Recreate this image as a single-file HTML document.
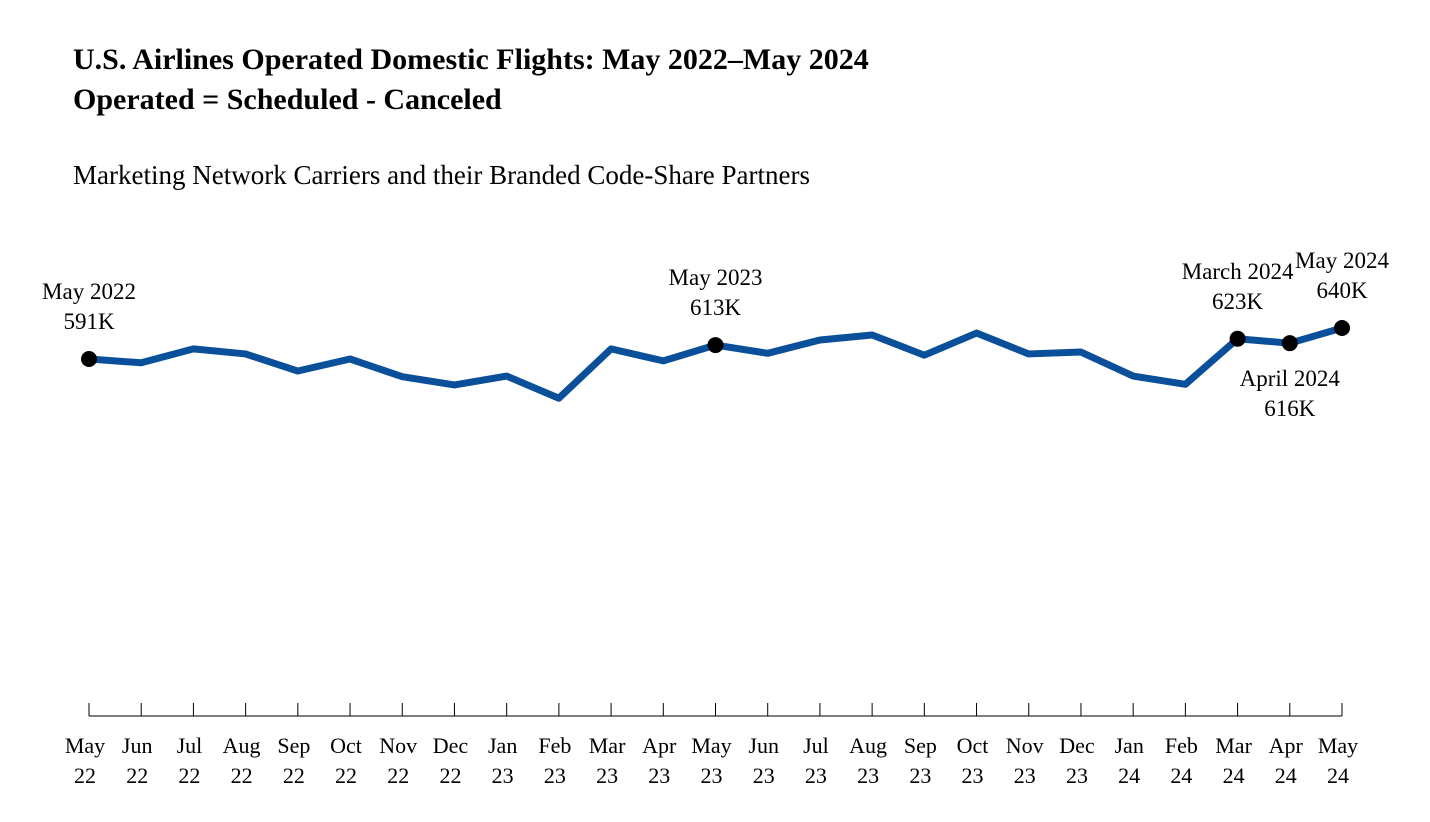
<!DOCTYPE html>
<html><head><meta charset="utf-8">
<style>
body{margin:0;background:#fff;width:1430px;height:817px;overflow:hidden;font-family:"Liberation Serif",serif;}
</style></head>
<body>
<svg width="1430" height="817" xmlns="http://www.w3.org/2000/svg" font-family="Liberation Serif, serif">
<text x="73" y="69" font-size="30" font-weight="bold">U.S. Airlines Operated Domestic Flights: May 2022–May 2024</text>
<text x="73" y="109" font-size="30" font-weight="bold">Operated = Scheduled - Canceled</text>
<text x="73" y="184" font-size="27">Marketing Network Carriers and their Branded Code-Share Partners</text>
<g id="axis"></g>
<g id="plot"></g>
</svg>
<script>
const months=["May","Jun","Jul","Aug","Sep","Oct","Nov","Dec","Jan","Feb","Mar","Apr","May","Jun","Jul","Aug","Sep","Oct","Nov","Dec","Jan","Feb","Mar","Apr","May"];
const years=["22","22","22","22","22","22","22","22","23","23","23","23","23","23","23","23","23","23","23","23","24","24","24","24","24"];
const values=[591,585,607,599,572,591,563,550,564,529,607,588,613,600,621,629,597,632,599,602,564,551,623,616,640];
const labeled=[[0,"May 2022","591K","above"],[12,"May 2023","613K","above"],[22,"March 2024","623K","above"],[23,"April 2024","616K","below"],[24,"May 2024","640K","above"]];
const NS="http://www.w3.org/2000/svg";
const x0=89,x1=1342;
function xs(i){return x0+(x1-x0)*i/(values.length-1);}
function ys(v){return 359-(v-591)*(31/49);}
const axis=document.getElementById('axis'),plot=document.getElementById('plot');
function mk(t,a,p){const e=document.createElementNS(NS,t);for(const k in a)e.setAttribute(k,a[k]);p.appendChild(e);return e;}
const al=mk('line',{x1:x0,x2:x1,y1:716,y2:716,stroke:'#000','stroke-width':1},axis);


months.forEach((m,i)=>{
 const t=mk('line',{x1:xs(i),x2:xs(i),y1:703,y2:716,stroke:'#000','stroke-width':1},axis);
 
 
 const tx=mk('text',{x:xs(i)-4,y:753,'font-size':22,'text-anchor':'middle'},axis);
 tx.textContent=m;
 
 
 const ty=mk('text',{x:xs(i)-4,y:783,'font-size':22,'text-anchor':'middle'},axis);
 ty.textContent=years[i];
 
 
});
const pl=mk('polyline',{points:values.map((v,i)=>xs(i)+','+ys(v)).join(' '),fill:'none',stroke:'#0a4f9a','stroke-width':7,'stroke-linejoin':'round'},plot);


labeled.forEach(([i,a,b,pos])=>{
 const c=mk('circle',{cx:xs(i),cy:ys(values[i]),r:8,fill:'#000'},plot);
 
 
 const y=pos==='above'?ys(values[i])-60:ys(values[i])+43;
 const t1=mk('text',{x:xs(i),y:y,'font-size':23,'text-anchor':'middle'},plot);
 t1.textContent=a;
 
 
 const t2=mk('text',{x:xs(i),y:y+30,'font-size':23,'text-anchor':'middle'},plot);
 t2.textContent=b;
 
 
});
</script>
</body></html>
